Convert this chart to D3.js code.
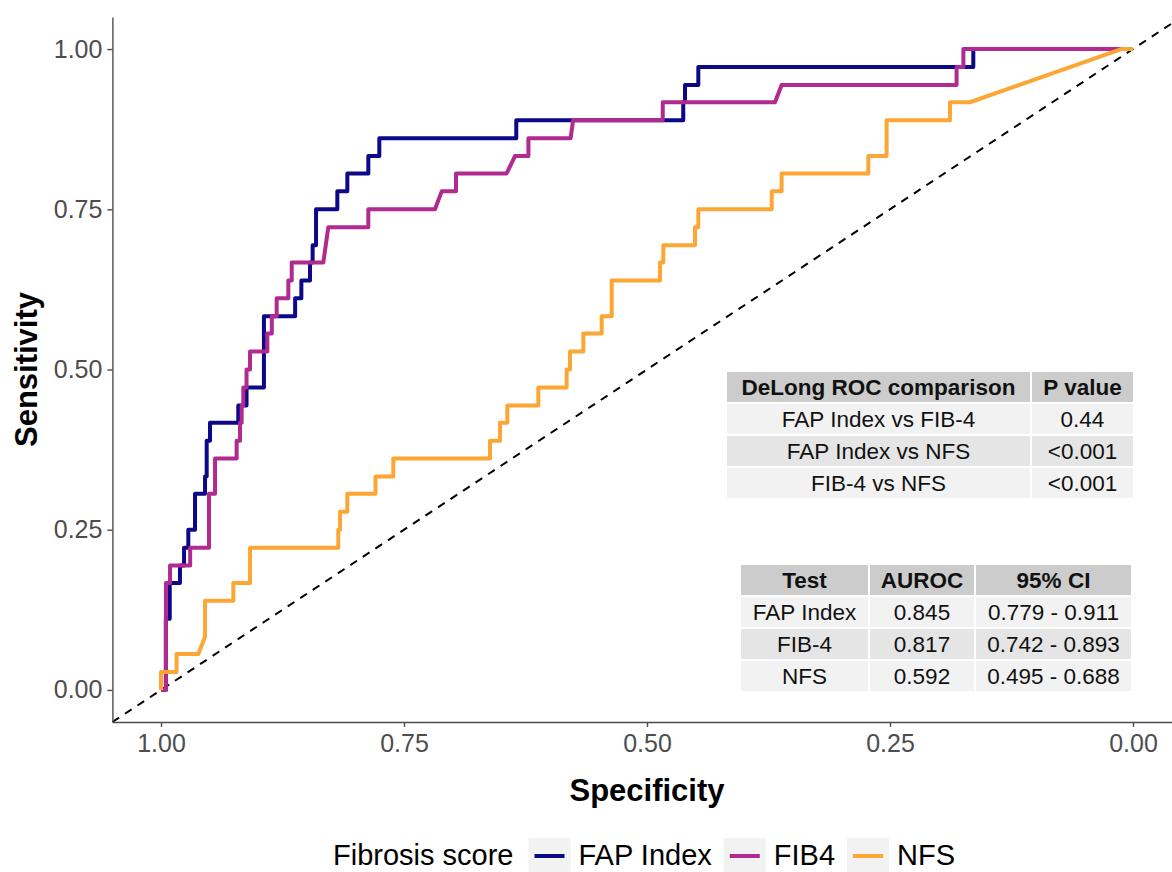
<!DOCTYPE html>
<html><head><meta charset="utf-8">
<script src="https://cdn.jsdelivr.net/npm/d3@7"></script>
<style>
body{margin:0;background:#fff}
svg{display:block}
text{font-family:"Liberation Sans",Arial,Helvetica,sans-serif}
</style>
</head><body><svg id="c" width="1172" height="872"></svg>
<script>
// ---------- data ----------
const seriesNames = ["FAP Index", "FIB4", "NFS"];
const seriesColors = ["#0D0887", "#B12A90", "#FCA636"];
// [specificity, sensitivity]
const fapIndexRoc = [[1,0],[0.995,0],[0.995,0.111],[0.991,0.111],[0.991,0.167],[0.9805,0.167],[0.9805,0.194],[0.9763,0.194],[0.9763,0.222],[0.9719,0.222],[0.9719,0.25],[0.965,0.25],[0.965,0.306],[0.9547,0.306],[0.9547,0.333],[0.953,0.333],[0.953,0.389],[0.9496,0.389],[0.9496,0.417],[0.9205,0.417],[0.9205,0.444],[0.912,0.444],[0.912,0.472],[0.8941,0.472],[0.8941,0.583],[0.862,0.583],[0.862,0.611],[0.8556,0.611],[0.8556,0.639],[0.8467,0.639],[0.8467,0.667],[0.844,0.667],[0.844,0.694],[0.8405,0.694],[0.8405,0.75],[0.8186,0.75],[0.8186,0.778],[0.8083,0.778],[0.8083,0.806],[0.7867,0.806],[0.7867,0.833],[0.7754,0.833],[0.7754,0.861],[0.6345,0.861],[0.6345,0.889],[0.4627,0.889],[0.4627,0.917],[0.4609,0.917],[0.4609,0.944],[0.4472,0.944],[0.4472,0.972],[0.1643,0.972],[0.1643,1],[0,1]];
const fib4Roc = [[1,0],[0.9949,0],[0.9949,0.167],[0.9907,0.167],[0.9907,0.194],[0.970,0.194],[0.970,0.222],[0.9506,0.222],[0.9506,0.306],[0.9444,0.306],[0.9444,0.361],[0.9222,0.361],[0.9222,0.389],[0.9187,0.389],[0.9187,0.417],[0.917,0.417],[0.917,0.444],[0.9153,0.444],[0.9153,0.472],[0.912,0.472],[0.912,0.5],[0.9084,0.5],[0.9084,0.528],[0.8906,0.528],[0.8906,0.556],[0.886,0.556],[0.886,0.583],[0.881,0.583],[0.881,0.611],[0.869,0.611],[0.869,0.639],[0.8655,0.639],[0.8655,0.667],[0.833,0.667],[0.8279,0.722],[0.7867,0.722],[0.7867,0.75],[0.7181,0.75],[0.7112,0.778],[0.6965,0.778],[0.6965,0.806],[0.6444,0.806],[0.6358,0.833],[0.622,0.833],[0.622,0.861],[0.5786,0.861],[0.576,0.889],[0.4838,0.889],[0.4838,0.917],[0.3683,0.917],[0.3615,0.944],[0.1815,0.944],[0.1815,0.972],[0.1745,0.972],[0.1745,1],[0,1]];
const nfsRoc = [[1,0],[1,0.028],[0.984,0.028],[0.984,0.056],[0.9616,0.056],[0.9547,0.083],[0.9547,0.139],[0.9256,0.139],[0.9256,0.167],[0.9084,0.167],[0.9084,0.222],[0.8176,0.222],[0.8176,0.25],[0.8158,0.25],[0.8158,0.278],[0.8083,0.278],[0.8083,0.306],[0.7793,0.306],[0.7793,0.333],[0.761,0.333],[0.761,0.361],[0.6615,0.361],[0.6615,0.389],[0.6512,0.389],[0.6512,0.417],[0.6437,0.417],[0.6437,0.444],[0.6118,0.444],[0.6118,0.472],[0.5827,0.472],[0.5827,0.5],[0.5792,0.5],[0.5792,0.528],[0.5655,0.528],[0.5655,0.556],[0.5466,0.556],[0.5466,0.583],[0.5363,0.583],[0.5363,0.639],[0.4866,0.639],[0.4866,0.667],[0.4832,0.667],[0.4832,0.694],[0.4506,0.694],[0.4506,0.722],[0.4472,0.722],[0.4472,0.75],[0.3717,0.75],[0.3717,0.778],[0.3615,0.778],[0.3615,0.806],[0.2723,0.806],[0.2723,0.833],[0.2535,0.833],[0.2535,0.889],[0.1883,0.889],[0.1883,0.917],[0.1677,0.917],[0.012,1],[0,1]];
const xTicks = [1, 0.75, 0.5, 0.25, 0];
const yTicks = [0, 0.25, 0.5, 0.75, 1];
const xTitle = "Specificity";
const yTitle = "Sensitivity";
const legendTitle = "Fibrosis score";
const delongHeader = ["DeLong ROC comparison", "P value"];
const delongComparisons = ["FAP Index vs FIB-4", "FAP Index vs NFS", "FIB-4 vs NFS"];
const delongPValues = ["0.44", "<0.001", "<0.001"];
const aurocHeader = ["Test", "AUROC", "95% CI"];
const aurocTests = ["FAP Index", "FIB-4", "NFS"];
const aurocValues = ["0.845", "0.817", "0.592"];
const aurocCI = ["0.779 - 0.911", "0.742 - 0.893", "0.495 - 0.688"];

// ---------- drawing ----------
const svg = d3.select("#c");
const x = d3.scaleLinear().domain([1.05, -0.05]).range([112.4, 1181.6]);
const y = d3.scaleLinear().domain([-0.05, 1.05]).range([722, 17]);
const axisColor = "#4d4d4d";

// diagonal reference
svg.append("line")
  .attr("x1", x(1.05)).attr("y1", y(-0.05))
  .attr("x2", x(-0.05)).attr("y2", y(1.05))
  .attr("stroke", "#000").attr("stroke-width", 2)
  .attr("stroke-dasharray", "8,7");

const line = d3.line().x(d => x(d[0])).y(d => y(d[1]));
const curves = [fapIndexRoc, fib4Roc, nfsRoc];
curves.forEach((c, i) => {
  svg.append("path").attr("d", line(c))
    .attr("fill", "none").attr("stroke", seriesColors[i])
    .attr("stroke-width", 4).attr("stroke-linejoin", "round");
});

// axes
const gx = svg.append("g").attr("transform", `translate(0,${y(-0.05)})`)
  .call(d3.axisBottom(x).tickValues(xTicks).tickFormat(d3.format(".2f")).tickSize(5).tickSizeOuter(0).tickPadding(7));
const gy = svg.append("g").attr("transform", `translate(${x(1.05)},0)`)
  .call(d3.axisLeft(y).tickValues(yTicks).tickFormat(d3.format(".2f")).tickSize(5).tickSizeOuter(0).tickPadding(5));
[gx, gy].forEach(g => {
  g.select(".domain").attr("stroke", axisColor).attr("stroke-width", 1.4);
  g.selectAll(".tick line").attr("stroke", axisColor).attr("stroke-width", 1.4);
  g.selectAll(".tick text").attr("fill", axisColor).attr("font-size", 25)
    .attr("font-family", '"Liberation Sans",Arial,sans-serif');
});

// axis titles
svg.append("text").attr("x", (x(1) + x(0)) / 2).attr("y", 801)
  .attr("text-anchor", "middle").attr("font-size", 31).attr("font-weight", "bold")
  .text(xTitle);
svg.append("text").attr("transform", `translate(37,${(y(0) + y(1)) / 2}) rotate(-90)`)
  .attr("text-anchor", "middle").attr("font-size", 31).attr("font-weight", "bold")
  .text(yTitle);

// tables
function drawTable(x0, y0, colWidths, rowH, gap, header, rows, fs) {
  const g = svg.append("g");
  const allRows = [header].concat(rows);
  allRows.forEach((r, ri) => {
    let cx = x0;
    const yy = y0 + ri * (rowH + gap);
    const fill = ri === 0 ? "#cccccc" : (ri % 2 === 1 ? "#f2f2f2" : "#e5e5e5");
    r.forEach((cell, ci) => {
      g.append("rect").attr("x", cx).attr("y", yy).attr("width", colWidths[ci]).attr("height", rowH).attr("fill", fill);
      g.append("text").attr("x", cx + colWidths[ci] / 2).attr("y", yy + rowH / 2).attr("dy", "0.36em")
        .attr("text-anchor", "middle").attr("font-size", fs)
        .attr("font-weight", ri === 0 ? "bold" : "normal").attr("fill", "#111")
        .text(cell);
      cx += colWidths[ci] + gap;
    });
  });
}
drawTable(727, 372, [303, 101], 30, 2, delongHeader,
  delongComparisons.map((c, i) => [c, delongPValues[i]]), 22.5);
drawTable(741, 565, [127, 104, 155], 30, 2, aurocHeader,
  aurocTests.map((t, i) => [t, aurocValues[i], aurocCI[i]]), 22.5);

// legend
const lg = svg.append("g");
const legY = 865;
let lx = 333;
const tt = lg.append("text").attr("x", lx).attr("y", legY).attr("font-size", 29).attr("fill", "#000").text(legendTitle);
lx += tt.node().getComputedTextLength() + 15;
seriesNames.forEach((n, i) => {
  lg.append("rect").attr("x", lx).attr("y", 838).attr("width", 42).attr("height", 34).attr("fill", "#f2f2f2");
  lg.append("line").attr("x1", lx + 6).attr("x2", lx + 36).attr("y1", 856).attr("y2", 856)
    .attr("stroke", seriesColors[i]).attr("stroke-width", 4);
  lx += 42 + 8;
  const t = lg.append("text").attr("x", lx).attr("y", legY).attr("font-size", 29).attr("fill", "#000").text(n);
  lx += t.node().getComputedTextLength() + 12;
});
</script>
</body></html>
